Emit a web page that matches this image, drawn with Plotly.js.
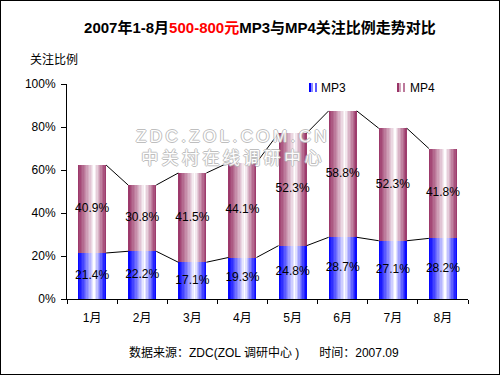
<!DOCTYPE html>
<html><head><meta charset="utf-8">
<script src="https://cdn.plot.ly/plotly-3.0.1.min.js"></script>
<style>
html,body{margin:0;padding:0;background:#fff;}
#frame{width:500px;height:375px;box-sizing:border-box;border:1px solid #000;overflow:hidden;}
#chart{width:498px;height:373px;}
</style></head>
<body><div id="frame"><div id="chart"></div></div>
<script>
// ---- data ----
const months = ['1月','2月','3月','4月','5月','6月','7月','8月'];
const mp3 = [21.4, 22.2, 17.1, 19.3, 24.8, 28.7, 27.1, 28.2];
const mp4 = [40.9, 30.8, 41.5, 44.1, 52.3, 58.8, 52.3, 41.8];
const seriesNames = ['MP3', 'MP4'];
const yTicks = [0, 20, 40, 60, 80, 100];

// ---- style ----
const FONT = 'Liberation Sans, Arial, Noto Sans CJK SC, sans-serif';
const EDGE = {MP3: [0, 0, 255], MP4: [153, 51, 102]};
const BW = 0.56, N = 20, PEAK = 0.58;
function mix(c, f) {
  return 'rgb(' + c.map(v => Math.round(v + (255 - v) * f)).join(',') + ')';
}
function gradF(t) { return t < PEAK ? t / PEAK : (1 - t) / (1 - PEAK); }

const total = mp3.map((v, i) => v + mp4[i]);
const traces = [];

// gradient bars: layered strips, each extending to the bar's right edge
[[mp3, mp3.map(() => 0), 'MP3'], [mp4, mp3, 'MP4']].forEach(([vals, base, name]) => {
  for (let k = 0; k < N; k++) {
    const t = (k + 0.5) / N;
    const start = k * BW / N;
    traces.push({
      type: 'bar', x: months, y: vals, base: base,
      width: BW - start, offset: -BW / 2 + start,
      marker: {color: mix(EDGE[name], Math.pow(gradF(t), 1.1)), line: {width: 0}},
      showlegend: false, hoverinfo: 'skip', name: name
    });
  }
});

// series lines (corner to corner) on overlay linear axis
function seriesLine(vals) {
  const xs = [], ys = [];
  for (let i = 0; i < vals.length - 1; i++) {
    xs.push(i + BW / 2, i + 1 - BW / 2, null);
    ys.push(vals[i], vals[i + 1], null);
  }
  return {type: 'scatter', mode: 'lines', x: xs, y: ys, xaxis: 'x2', yaxis: 'y',
    line: {color: '#000', width: 1}, connectgaps: false, showlegend: false, hoverinfo: 'skip'};
}
traces.push(seriesLine(mp3));
traces.push(seriesLine(total));

// value labels
traces.push({type: 'scatter', mode: 'text', x: months, y: mp3.map(v => v / 2),
  text: mp3.map(v => v.toFixed(1) + '%'), textfont: {family: FONT, size: 12, color: '#000'},
  showlegend: false, hoverinfo: 'skip'});
traces.push({type: 'scatter', mode: 'text', x: months, y: mp4.map((v, i) => mp3[i] + v / 2),
  text: mp4.map(v => v.toFixed(1) + '%'), textfont: {family: FONT, size: 12, color: '#000'},
  showlegend: false, hoverinfo: 'skip'});

// pixel -> paper helpers (page coords)
const PL = 67, PR = 468, PT = 84, PB = 299;
const px = x => (x - PL) / (PR - PL);
const py = y => (PB - y) / (PB - PT);

const shapes = [];
const legendItems = [{name: 'MP3', sx: 309, tx: 319}, {name: 'MP4', sx: 397, tx: 408}];
legendItems.forEach(it => {
  const fs = [0, 0.55, 1, 0.35];
  fs.forEach((f, j) => {
    shapes.push({type: 'rect', xref: 'paper', yref: 'paper',
      x0: px(it.sx + j * 2), x1: px(it.sx + j * 2 + 2), y0: py(92), y1: py(83),
      fillcolor: mix(EDGE[it.name], f), line: {width: 0}, layer: 'above'});
  });
});

const wmFont = {family: FONT, size: 17, color: '#ffffff',
  shadow: '1px 0 0 #b8b8b8, -1px 0 0 #b8b8b8, 0 1px 0 #b8b8b8, 0 -1px 0 #b8b8b8'};
const spaced = s => s.split('').join('\u2009');

const annotations = [
  {text: '关注比例', xref: 'paper', yref: 'paper', x: px(28), y: py(60), xanchor: 'left', yanchor: 'middle',
   showarrow: false, font: {family: FONT, size: 12, color: '#000'}},
  {text: '数据来源：ZDC(ZOL 调研中心 )\u00a0\u00a0\u00a0\u00a0\u00a0\u00a0时间：2007.09', xref: 'paper', yref: 'paper',
   x: px(264), y: py(352), xanchor: 'center', yanchor: 'middle', showarrow: false,
   font: {family: FONT, size: 12, color: '#000'}},
  {text: spaced('ZDC.ZOL.COM.CN') + '<br>' + spaced('中关村在线调研中心'), xref: 'paper', yref: 'paper',
   x: px(231), y: py(147), xanchor: 'center', yanchor: 'middle', align: 'center',
   showarrow: false, font: wmFont, opacity: 0.9}
];
legendItems.forEach(it => annotations.push({text: it.name, xref: 'paper', yref: 'paper', x: px(it.tx), y: py(87.5),
  xanchor: 'left', yanchor: 'middle', showarrow: false, font: {family: FONT, size: 12, color: '#000'}}));

const layout = {
  width: 498, height: 373,
  margin: {l: 66, r: 31, t: 83, b: 75, pad: 0},
  paper_bgcolor: '#fff', plot_bgcolor: '#fff',
  barmode: 'overlay', bargap: 0,
  showlegend: false,
  title: {text: '2007年1-8月<span style="color:#ff0000">500-800元</span>MP3与MP4关注比例走势对比',
    x: 0.52, xanchor: 'center', y: 1 - 27 / 373, yanchor: 'middle',
    font: {family: FONT, size: 15, color: '#000', weight: 'bold'}},
  xaxis: {type: 'category', range: [-0.5, 7.5], tickson: 'boundaries', ticks: 'outside', ticklen: 4,
    tickcolor: '#000', showline: true, linecolor: '#000', linewidth: 1, showgrid: false, zeroline: false,
    tickfont: {family: FONT, size: 12, color: '#000'}, ticklabelstandoff: 8, fixedrange: true},
  xaxis2: {overlaying: 'x', range: [-0.5, 7.5], visible: false, fixedrange: true},
  yaxis: {range: [0, 100], tickvals: yTicks, ticktext: yTicks.map(v => v + '%'), ticks: 'outside', ticklen: 5,
    tickcolor: '#000', showline: true, linecolor: '#000', linewidth: 1, showgrid: false, zeroline: false,
    tickfont: {family: FONT, size: 12, color: '#000'}, ticklabelstandoff: 3, fixedrange: true},
  shapes: shapes,
  annotations: annotations
};

Plotly.newPlot('chart', traces, layout, {displayModeBar: false, staticPlot: true});
</script></body></html>
